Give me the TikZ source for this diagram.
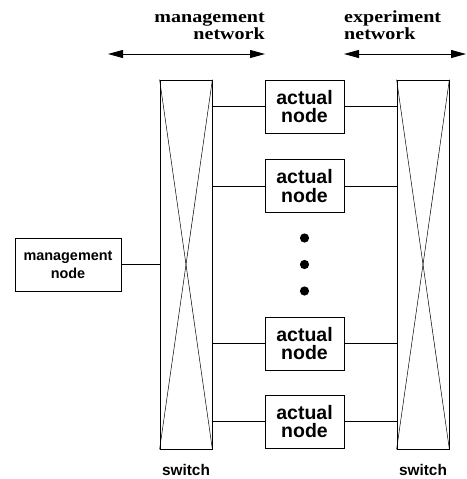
\documentclass[tikz,border=0pt]{standalone}
\usepackage{fontspec}
\setmainfont{Liberation Serif}
\newfontfamily\labelfont{Liberation Sans}[BoldFont={* Bold}]
\newfontfamily\netfont{Liberation Serif}[FakeStretch=1.18]
\usetikzlibrary{arrows.meta}
\begin{document}
\begin{tikzpicture}[x=1pt,y=-1pt,
  box/.style={draw,line width=0.8pt,inner sep=0pt,align=center},
  hostbox/.style={box,minimum width=79pt,minimum height=53pt,
    font=\labelfont\bfseries\fontsize{19.5}{18.5}\selectfont},
  switchbox/.style={box,minimum width=52pt,minimum height=369pt},
  link/.style={line width=0.8pt},
  span/.style={line width=0.9pt,{Triangle[length=15pt,width=8pt]}-{Triangle[length=15pt,width=8pt]}},
  nettitle/.style={inner sep=0pt,font=\netfont\bfseries\fontsize{17}{16.3}\selectfont},
  caption/.style={inner sep=0pt,anchor=base,font=\labelfont\bfseries\fontsize{15.4}{18}\selectfont}]
\useasboundingbox (0,0) rectangle (466,479);

% the two switches, each drawn as a box crossed corner to corner
\node[switchbox] (swL) at (186,264.5) {};
\node[switchbox] (swR) at (423,264.5) {};
\foreach \s in {swL,swR}{
  \draw[line width=0.5pt] (\s.north west) -- (\s.south east);
  \draw[line width=0.5pt] (\s.north east) -- (\s.south west);
}
\node[caption] (capL) at (186,475) {switch};
\node[caption] (capR) at (423,475) {switch};

% compute nodes between the switches
\node[hostbox] (h1) at (304.5,106.5) {actual\\node};
\node[hostbox] (h2) at (304.5,186) {actual\\node};
\node[hostbox] (h3) at (304.5,343.5) {actual\\node};
\node[hostbox] (h4) at (304.5,421.5) {actual\\node};
\foreach \h in {h1,h2,h3,h4}{
  \draw[link] (swL.east |- \h) -- (\h.west);
  \draw[link] (\h.east) -- (swR.west |- \h);
}

% ellipsis for the nodes left out
\foreach \y in {238,264.5,291}
  \fill (304.5,\y) circle (4.6pt);

% management node on the left
\node[box,minimum width=106pt,minimum height=53pt,
  font=\labelfont\bfseries\fontsize{14.4}{18}\selectfont] (mgmt) at (68,264.5) {management\\node};
\draw[link] (mgmt.east) -- (swL.west |- mgmt);

% network spans
\coordinate (mA) at (108,54);
\coordinate (mB) at (265,54);
\coordinate (eA) at (344,54);
\coordinate (eB) at (466,54);
\draw[span] (mA) -- (mB);
\draw[span] (eA) -- (eB);
% anchored on the baseline of the second line
\node[nettitle,align=right,anchor=base east] (mnet) at (265,39) {management\\network};
\node[nettitle,align=left,anchor=base west] (enet) at (344,39) {experiment\\network};
\end{tikzpicture}
\end{document}
